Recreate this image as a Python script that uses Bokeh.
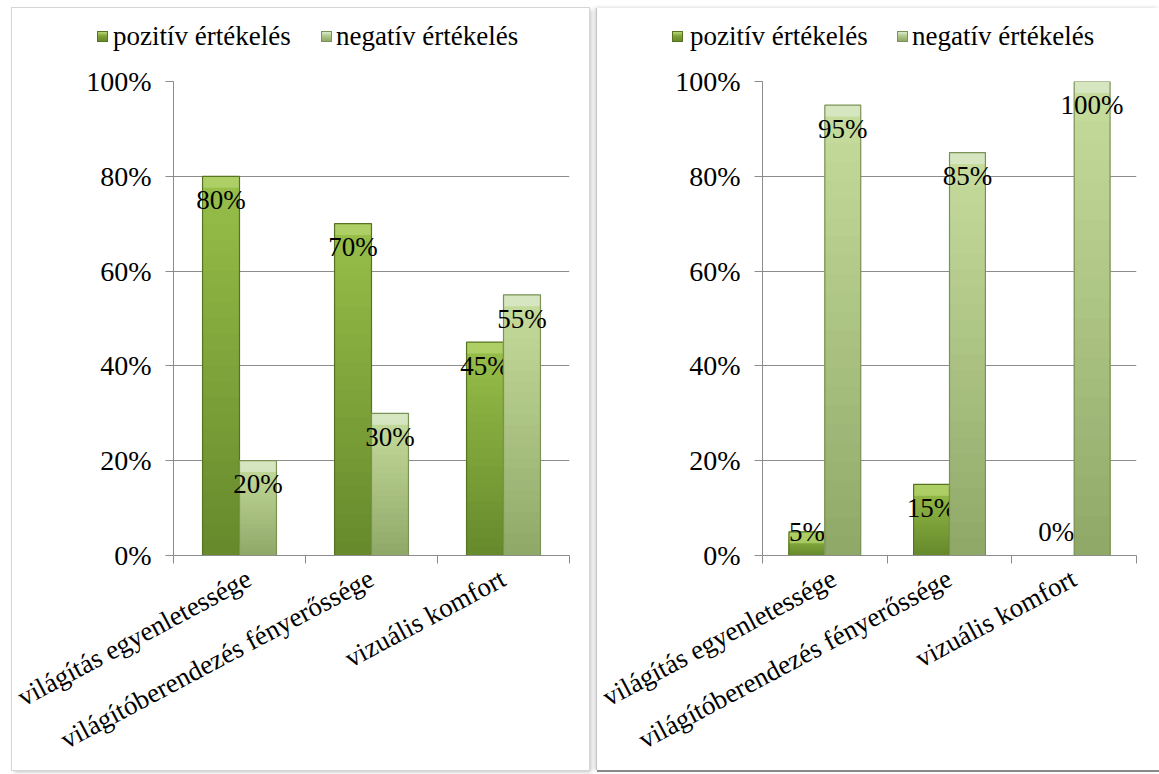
from bokeh.plotting import figure
from bokeh.models import ColumnDataSource, Range1d, FixedTicker, LinearAxis, Grid, Div
from bokeh.layouts import row, column
from bokeh.embed import file_html
from bokeh.resources import INLINE
from bokeh.core.properties import value

# --- data -------------------------------------------------------------------
categories = ["világítás egyenletessége",
              "világítóberendezés fényerőssége",
              "vizuális komfort"]
series_names = ["pozitív értékelés", "negatív értékelés"]

left_pozitiv = [0.80, 0.70, 0.45]
left_negativ = [0.20, 0.30, 0.55]
right_pozitiv = [0.05, 0.15, 0.00]
right_negativ = [0.95, 0.85, 1.00]

y_ticks = [0.0, 0.2, 0.4, 0.6, 0.8, 1.0]
y_tick_labels = ["0%", "20%", "40%", "60%", "80%", "100%"]

# --- styling ----------------------------------------------------------------
FONT = "'Liberation Serif', 'Times New Roman', 'DejaVu Serif', serif"
GRID = "#8c8c8c"
POS = dict(top="#98bf4a", bottom="#66892b", edge="#56741f", bevel="#b8d672", key="#7ea235")
NEG = dict(top="#c7dd9e", bottom="#8fa868", edge="#7a9256", bevel="#dcead0", key="#b0c888")
N_SEG = 24
LEGEND_H = 53


def hex2rgb(h):
    return tuple(int(h[i:i + 2], 16) for i in (1, 3, 5))


def mix(c0, c1, t):
    a, b = hex2rgb(c0), hex2rgb(c1)
    return "#%02x%02x%02x" % tuple(round(a[i] + (b[i] - a[i]) * t) for i in range(3))


def add_series(p, vals, offset, bar_w, pal):
    """Bars with a vertical shading, a darker rim and a light bevel on top."""
    # shading: slices stacked from zero, tallest (lightest) first, so each
    # shorter and darker slice paints over the lower part without seams
    seg = dict(x=[], top=[], color=[])
    for k in reversed(range(N_SEG)):
        for i, v in enumerate(vals):
            seg["x"].append(i + 0.5 + offset)
            seg["top"].append(v * (k + 1) / N_SEG)
            seg["color"].append(mix(pal["bottom"], pal["top"], (k + 0.5) / N_SEG))
    p.vbar(x="x", bottom=0, top="top", width=bar_w, fill_color="color",
           line_color=None, source=ColumnDataSource(seg))

    xs = [i + 0.5 + offset for i in range(len(vals))]
    shown = [v > 0 for v in vals]
    bx = [x for x, s in zip(xs, shown) if s]
    bv = [v for v, s in zip(vals, shown) if s]
    p.quad(left=[x - bar_w / 2 for x in bx], right=[x + bar_w / 2 for x in bx],
           bottom=[max(v - 0.024, 0) for v in bv], top=bv,
           fill_color=pal["bevel"], fill_alpha=0.7, line_color=None)
    p.vbar(x=bx, bottom=0, top=bv, width=bar_w, fill_color=None,
           line_color=pal["edge"], line_width=1.2)

    # value labels just inside the bar end
    p.text(x=xs, y=[max(v - 0.05, 0.05) for v in vals],
           text=["%d%%" % round(v * 100) for v in vals],
           text_font=value(FONT), text_font_size="27px", text_color="#000000",
           text_align="center", text_baseline="middle")


def make_legend(width, key_x, label_x):
    """Series key strip shown above each plot."""
    parts = []
    for name, pal, kx, tx in zip(series_names, (POS, NEG), key_x, label_x):
        parts.append(
            f'<span style="position:absolute;left:{kx}px;top:23px;width:11px;height:11px;'
            f'box-sizing:border-box;border:1px solid {pal["edge"]};'
            f'background:linear-gradient({pal["bevel"]} 0%, {pal["key"]} 45%, {pal["bottom"]} 100%);"></span>'
            f'<span style="position:absolute;left:{tx}px;top:13px;line-height:30px;'
            f'white-space:nowrap;">{name}</span>')
    html = (f'<div style="position:relative;width:{width}px;height:{LEGEND_H}px;'
            f'font-family:{FONT};font-size:27px;color:#000000;">' + "".join(parts) + "</div>")
    return Div(text=html, width=width, height=LEGEND_H, margin=0,
               styles={"background-color": "white"})


def make_chart(pos_vals, neg_vals, width, border_left, border_right, bar_w):
    p = figure(width=width, height=762 - LEGEND_H, x_range=Range1d(0, 3), y_range=Range1d(0, 1),
               x_axis_type=None, y_axis_type=None,
               output_backend="svg", toolbar_location=None,
               min_border_left=border_left, min_border_right=border_right,
               min_border_top=81 - 8 - LEGEND_H, min_border_bottom=215,
               background_fill_color="white", border_fill_color="white",
               outline_line_color=None, margin=0)

    yticker = FixedTicker(ticks=y_ticks)
    p.add_layout(Grid(dimension=1, ticker=yticker, grid_line_color=GRID,
                      grid_line_width=1))

    yaxis = LinearAxis(ticker=yticker,
                       major_label_overrides={t: l for t, l in zip(y_ticks, y_tick_labels)},
                       axis_line_color=GRID, major_tick_line_color=GRID,
                       major_tick_out=8, major_tick_in=0, minor_tick_out=0,
                       major_label_standoff=14,
                       major_label_text_font=FONT, major_label_text_font_size="28px",
                       major_label_text_color="#000000")
    p.add_layout(yaxis, "left")

    centers = [i + 0.5 for i in range(len(categories))]
    xticker = FixedTicker(ticks=centers, minor_ticks=list(range(len(categories) + 1)))
    xaxis = LinearAxis(ticker=xticker,
                       major_label_overrides={c: n for c, n in zip(centers, categories)},
                       major_label_orientation=0.49,
                       axis_line_color=GRID, major_tick_out=0, major_tick_in=0,
                       minor_tick_line_color=GRID, minor_tick_out=8, minor_tick_in=0,
                       major_label_standoff=13,
                       major_label_text_font=FONT, major_label_text_font_size="27px",
                       major_label_text_color="#000000")
    p.add_layout(xaxis, "below")

    off = bar_w / 2
    add_series(p, pos_vals, -off, bar_w, POS)
    add_series(p, neg_vals, off, bar_w, NEG)
    return p


left_panel = column(make_legend(577, (85, 309), (101, 324)),
                    make_chart(left_pozitiv, left_negativ, 577, 161, 20, 0.28),
                    spacing=0, margin=(8, 0, 0, 12))
left_panel.styles = {"box-shadow": "0 0 0 1px #d6d6d6, 2px 2px 4px rgba(0,0,0,0.25)"}

right_panel = column(make_legend(562, (75, 300), (93, 315)),
                     make_chart(right_pozitiv, right_negativ, 562, 165, 23, 0.288),
                     spacing=0, margin=(8, 0, 0, 8))
right_panel.styles = {"box-shadow": "-1px 0 0 #c4c4c4, 0 2px 0 #8a8a8a, -2px 0 4px rgba(0,0,0,0.2)"}

layout = row(left_panel, right_panel)
open("out.html", "w").write(file_html(layout, INLINE))
